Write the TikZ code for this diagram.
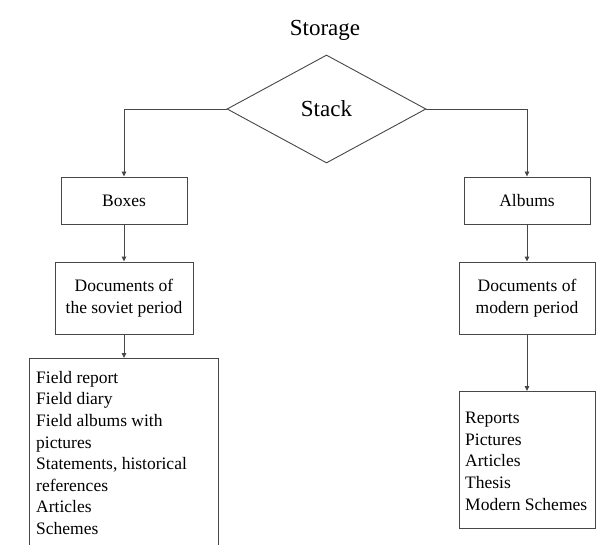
\documentclass[tikz,border=0pt]{standalone}
\usepackage{fontspec}
\setmainfont{Liberation Serif}
\usetikzlibrary{shapes.geometric,arrows.meta}
\tikzset{
  line/.style={draw=black!72, line width=0.9pt},
  arr/.style={line, -{Triangle[length=5pt,width=4.5pt]}},
  big/.style={font=\fontsize{23}{27}\selectfont},
  txt/.style={font=\fontsize{17.5}{21.6}\selectfont},
  boxnode/.style={line, rectangle, inner sep=0pt, txt, align=center},
  listtext/.style={txt, align=left, inner sep=0pt, anchor=north west},
}
\begin{document}
\begin{tikzpicture}[x=1pt,y=-1pt]
\useasboundingbox[fill=white] (0,0) rectangle (612,545);
\node[big, anchor=base] (storage) at (325,36) {Storage};
\node[line, diamond, minimum width=199pt, minimum height=108pt, inner sep=0pt, big] (stack) at (326.5,109) {Stack};
\node[boxnode, minimum width=126pt, minimum height=47pt] (boxes) at (124,200.5) {Boxes};
\node[boxnode, minimum width=126pt, minimum height=47pt] (albums) at (527,200.5) {Albums};
\node[boxnode, minimum width=138pt, minimum height=72pt] (docsov) at (124,298) {Documents of\\the soviet period};
\node[boxnode, minimum width=136pt, minimum height=72pt] (docmod) at (527,298) {Documents of\\modern period};
\node[minimum width=188pt, minimum height=192pt, inner sep=0pt, anchor=north] (listsov) at (124,358) {};
\draw[line] (listsov.south west) -- (listsov.north west) -- (listsov.north east) -- (listsov.south east);
\node[line, rectangle, minimum width=136pt, minimum height=137pt, inner sep=0pt, anchor=north] (listmod) at (527,391) {};
\node[listtext] (soviettext) at (36,371) {Field report\\Field diary\\Field albums with\\pictures\\Statements, historical\\references\\Articles\\Schemes};
\node[listtext] (moderntext) at (465,412) {Reports\\Pictures\\Articles\\Thesis\\Modern Schemes};
\draw[arr] (stack.west) -| (boxes.north);
\draw[arr] (stack.east) -| (albums.north);
\draw[arr] (boxes) -- (docsov);
\draw[arr] (albums) -- (docmod);
\draw[arr] (docsov) -- (listsov.north);
\draw[arr] (docmod) -- (listmod.north);
\end{tikzpicture}
\end{document}
